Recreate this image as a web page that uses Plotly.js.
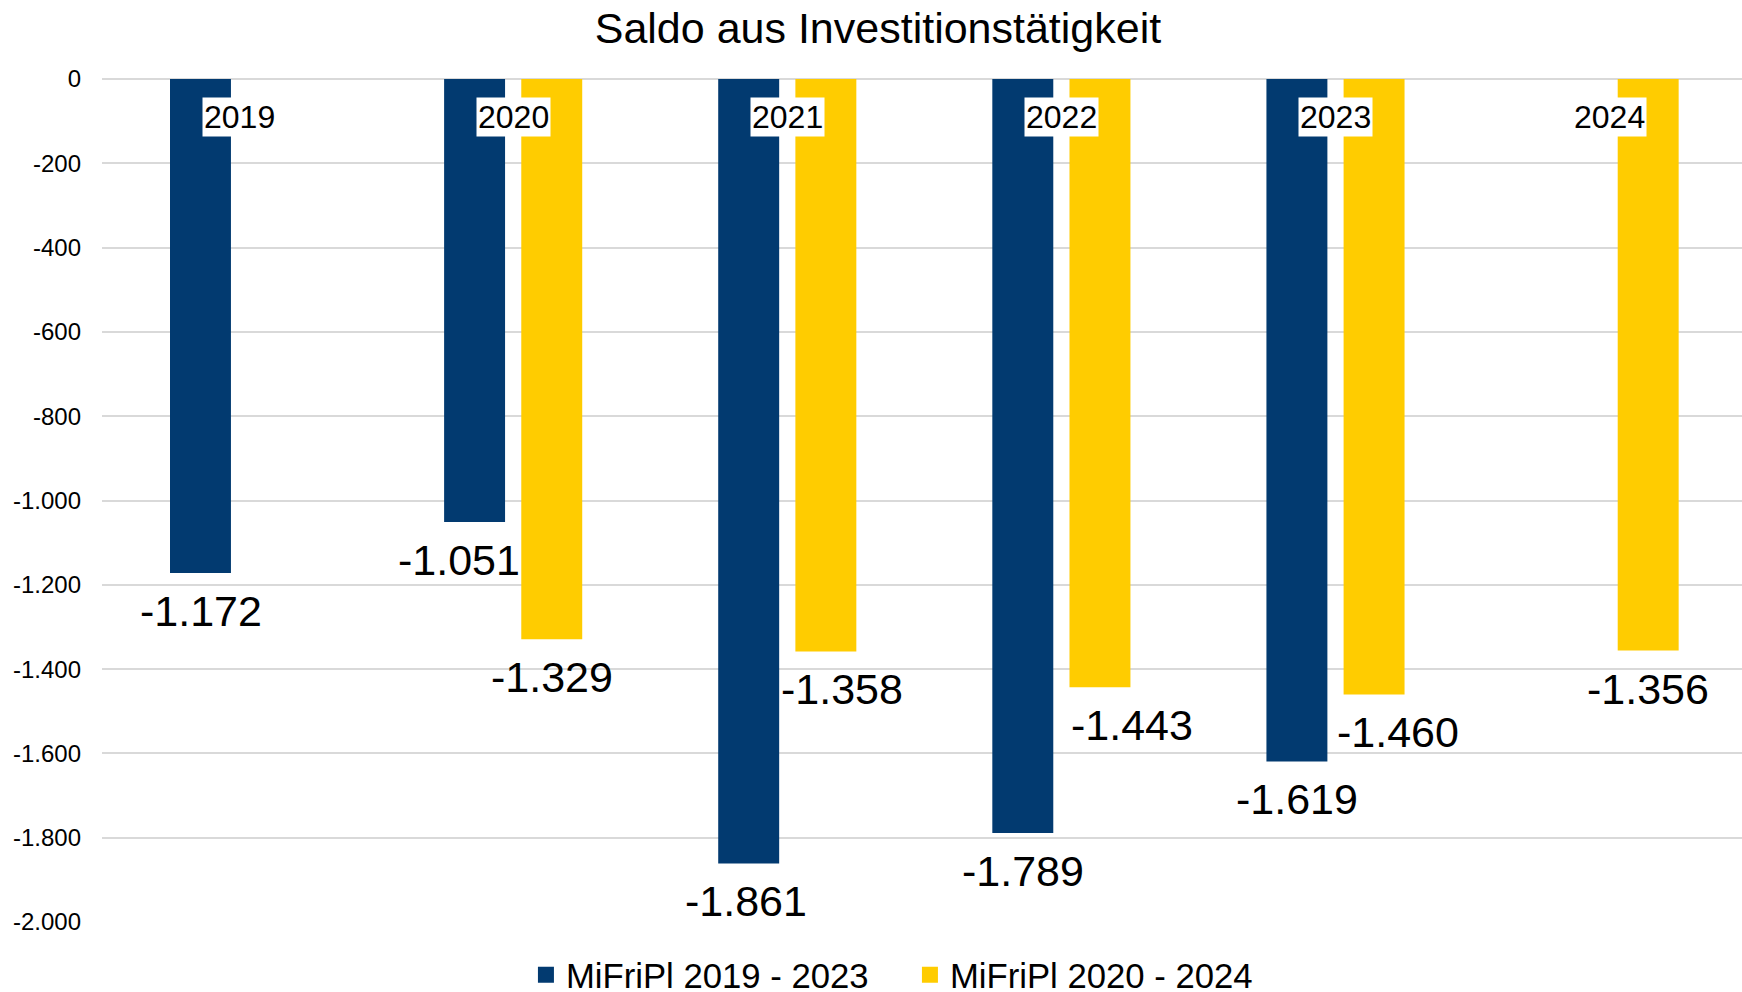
<!DOCTYPE html>
<html>
<head>
<meta charset="utf-8">
<script src="https://cdn.plot.ly/plotly-3.0.1.min.js"></script>
<style>html,body{margin:0;padding:0;background:#fff;}#chart{width:1742px;height:992px;}</style>
</head>
<body>
<div id="chart"></div>
<script>
// ---- data ----
const categories = ['2019', '2020', '2021', '2022', '2023', '2024'];
const seriesNames = ['MiFriPl 2019 - 2023', 'MiFriPl 2020 - 2024'];
const plan2019_2023 = [-1172, -1051, -1861, -1789, -1619, null];
const plan2020_2024 = [null, -1329, -1358, -1443, -1460, -1356];
const yTickValues = [0, -200, -400, -600, -800, -1000, -1200, -1400, -1600, -1800, -2000];
const yTickLabels = ['0', '-200', '-400', '-600', '-800', '-1.000', '-1.200', '-1.400', '-1.600', '-1.800', '-2.000'];
// label nudges (style only, pixels)
const nudgeBlue = [0, -16, -3, 0, 0, 0];
const nudgeYellow = [0, 0, 16, 32, 24, 0];

const FONT = '"Liberation Sans", Arial, sans-serif';
const BLUE = '#023A70';
const YELLOW = '#FFCC00';

function fmt(v) {
  const s = Math.abs(v).toString();
  const withSep = s.replace(/\B(?=(\d{3})+(?!\d))/g, '.');
  return (v < 0 ? '-' : '') + withSep;
}

const traces = [
  {type: 'bar', name: seriesNames[0], x: categories, y: plan2019_2023, showlegend: false,
   marker: {color: BLUE, line: {width: 0}}},
  {type: 'bar', name: seriesNames[1], x: categories, y: plan2020_2024, showlegend: false,
   marker: {color: YELLOW, line: {width: 0}}},
  // legend-only entries with larger square swatches
  {type: 'scatter', mode: 'markers', name: seriesNames[0], x: [null], y: [null],
   marker: {symbol: 'square', size: 17, color: BLUE}},
  {type: 'scatter', mode: 'markers', name: seriesNames[1], x: [null], y: [null],
   marker: {symbol: 'square', size: 17, color: YELLOW}}
];

const annotations = [];
const halfSlot = 38.5;
plan2019_2023.forEach((v, i) => {
  if (v === null) return;
  annotations.push({x: i, y: v, xref: 'x', yref: 'y', text: fmt(v), showarrow: false,
    xanchor: 'center', yanchor: 'middle', xshift: -halfSlot + nudgeBlue[i], yshift: -38,
    font: {family: FONT, size: 43, color: '#000'}});
});
plan2020_2024.forEach((v, i) => {
  if (v === null) return;
  annotations.push({x: i, y: v, xref: 'x', yref: 'y', text: fmt(v), showarrow: false,
    xanchor: 'center', yanchor: 'middle', xshift: halfSlot + nudgeYellow[i], yshift: -38,
    font: {family: FONT, size: 43, color: '#000'}});
});
categories.forEach((c, i) => {
  annotations.push({x: i, y: 0, xref: 'x', yref: 'y', text: c, showarrow: false,
    xanchor: 'center', yanchor: 'middle', yshift: -38, bgcolor: '#ffffff', borderpad: 1,
    font: {family: FONT, size: 32, color: '#000'}});
});

const layout = {
  width: 1742, height: 992,
  paper_bgcolor: '#fff', plot_bgcolor: '#fff',
  margin: {l: 102, r: 0, t: 79, b: 70, autoexpand: false},
  font: {family: FONT, color: '#000'},
  title: {text: 'Saldo aus Investitionstätigkeit', x: 0.504, xanchor: 'center', y: 0.972, yanchor: 'middle',
    font: {family: FONT, size: 43, color: '#000'}},
  barmode: 'group', bargap: 0.437, bargroupgap: 0.21,
  xaxis: {type: 'category', categoryarray: categories, range: [-0.5, 5.483], autorange: false,
    showticklabels: false, showgrid: false, zeroline: false, showline: false, ticks: ''},
  yaxis: {range: [-2000, 0], autorange: false, tickvals: yTickValues, ticktext: yTickLabels, showgrid: true,
    gridcolor: '#d9d9d9', gridwidth: 2, zeroline: true, zerolinecolor: '#d9d9d9', zerolinewidth: 2,
    showline: false, ticks: '', ticklabelstandoff: 20, tickfont: {family: FONT, size: 24, color: '#000'}},
  showlegend: true,
  legend: {orientation: 'h', x: 0.2585, xanchor: 'left', y: -0.063, yanchor: 'middle',
    entrywidth: 339, entrywidthmode: 'pixels',
    font: {family: FONT, size: 34.7, color: '#000'}, traceorder: 'normal', itemclick: false},
  annotations: annotations
};

Plotly.newPlot('chart', traces, layout, {displayModeBar: false, staticPlot: true});
</script>
</body>
</html>
